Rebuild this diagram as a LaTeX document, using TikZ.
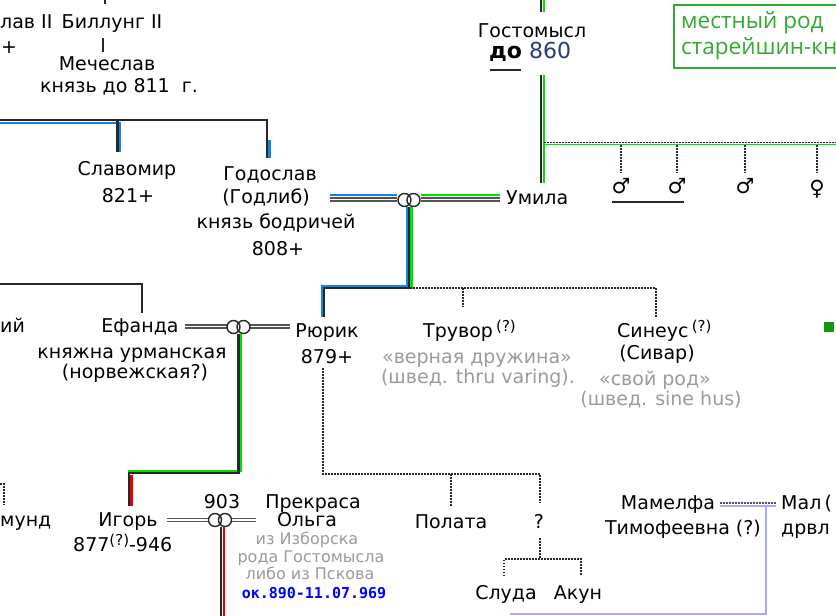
\documentclass[tikz,border=0pt]{standalone}
\usepackage{fontspec}
\setmainfont{DejaVu Sans}
\newfontfamily\boxfont{Open Sans}
\newfontfamily\monofont{DejaVu Sans Mono}
\definecolor{lgreen}{RGB}{0,225,0}
\definecolor{lblue}{RGB}{20,130,230}
\definecolor{lred}{RGB}{235,0,0}
\definecolor{gtxt}{RGB}{155,155,155}
\definecolor{pale}{RGB}{170,170,255}
\definecolor{dark}{RGB}{40,40,40}
\definecolor{bgreen}{RGB}{50,170,50}
\definecolor{sqgreen}{RGB}{20,150,20}
\definecolor{dblue}{RGB}{40,60,120}
\newcommand{\mainsz}{\fontsize{19}{24}\selectfont}
\newcommand{\qsup}{\raisebox{6pt}{\fontsize{15}{15}\selectfont(?)}}
\tikzset{
  txt/.style={inner sep=0pt, anchor=base, font=\mainsz, text=black},
  graytxt/.style={txt, text=gtxt},
  smallgray/.style={txt, text=gtxt, font=\fontsize{16}{18}\selectfont},
  monotxt/.style={txt, text=blue, font=\monofont\bfseries\fontsize{15}{18}\selectfont},
  symtxt/.style={inner sep=0pt, anchor=center, font=\fontsize{21}{21}\selectfont},
  boxtxt/.style={inner sep=0pt, anchor=base west, text=bgreen, font=\boxfont\fontsize{22.5}{24}\selectfont},
  bline/.style={draw=dark, line width=2.4pt},
  cline/.style={line width=2.2pt},
  thin/.style={draw=dark, line width=1.6pt},
  dotline/.style={draw=dark, line width=1.6pt, dash pattern=on 1.5pt off 1.5pt},
  marr/.style={draw=dark!80, line width=1.5pt, double=white, double distance=1.5pt},
  ring/.style={draw=dark, line width=1.4pt}
}
\begin{document}
\begin{tikzpicture}[x=1pt,y=-1pt]
\useasboundingbox (0,0) rectangle (836,616);
\clip (0,0) rectangle (836,616);
\fill[white] (0,0) rectangle (836,616);

% ---------- top-left ----------
\node[txt, anchor=base west] (lav) at (0,28) {лав II};
\node[txt, anchor=base west] (lavd) at (1,53) {+};
\node[txt] (bil) at (112,28) {Биллунг II};
\node[txt] (mech) at (107,70) {Мечеслав};
\node[txt] (mech2) at (119,92) {князь до 811~ г.};
\coordinate (biltop) at (105,0);
\draw[thin] (biltop) -- ++(0,4);
\draw[thin] (103,38) -- (103,52);

\node[txt] (slav) at (127,175) {Славомир};
\node[txt] (slav2) at (128,202) {821+};
\node[txt] (god) at (270,180) {Годослав};
\node[txt] (god2) at (266,203) {(Годлиб)};
\node[txt] (god3) at (276,228) {князь бодричей};
\node[txt] (god4) at (278,255) {808+};

\draw[cline, lblue] (0,122.6) -- (120.1,122.6) -- (120.1,152);
\draw[bline] (0,120) -- (267,120) -- (267,158);
\draw[bline] (117.5,120) -- (117.5,152);
\draw[cline, lblue] (269.5,140) -- (269.5,158);

% ---------- marriage Годослав - Умила ----------
\node[txt, anchor=base west] (umila) at (506,204) {Умила};
\coordinate (m1) at (409,200);
\draw[marr] (330,199.5) -- (397,199.5);
\draw[marr] (421,199.5) -- (500,199.5);
\draw[cline, lblue, line width=1.7pt] (330,195.3) -- (397,195.3);
\draw[cline, lgreen, line width=1.7pt] (421,195.3) -- (500,195.3);
\draw[ring] ([xshift=-4.5pt]m1) circle (6.5pt);
\draw[ring] ([xshift=4.5pt]m1) circle (6.5pt);

% descent to Рюрик
\draw[cline, lblue] (406.6,207) -- (406.6,285.6) -- (321.6,285.6) -- (321.6,317);
\draw[cline, lgreen] (411.4,207) -- (411.4,289);
\draw[bline] (409,207) -- (409,288) -- (324,288) -- (324,317);
\draw[dotline] (410,288) -- (656,288) -- (656,317);
\draw[dotline] (463,288) -- (463,307);

% ---------- Гостомысл ----------
\node[txt] (gost) at (532,37) {Гостомысл};
\node[txt, anchor=base west, font=\fontsize{22}{24}\selectfont] (gostd) at (489,58) {\textbf{до} \textcolor{dblue}{860}};
\draw[line width=2pt, dark] (490,69.5) -- (521,69.5);
\draw[cline, lgreen] (543.6,0) -- (543.6,12);
\draw[bline] (541,0) -- (541,12);
\draw[cline, lgreen] (543.6,75) -- (543.6,183);
\draw[bline] (541,75) -- (541,183);
\draw[lgreen, line width=1.4pt] (544,144.3) -- (836,144.3);
\draw[dotline, line width=1.3pt] (544,142.5) -- (836,142.5);
\foreach \sx in {621,677,745,817} {\draw[dotline] (\sx,145) -- (\sx,173);}
\node[symtxt] (s1) at (621,186) {♂};
\node[symtxt] (s2) at (677,186) {♂};
\node[symtxt] (s3) at (745,186) {♂};
\node[symtxt] (s4) at (817,189) {♀};
\draw[thin] (612,202) -- (684,202);

% green box
\draw[bgreen, line width=1.8pt] (674,5) rectangle (850,68);
\node[boxtxt] (box1) at (681,28) {местный род};
\node[boxtxt] (box2) at (681,54) {старейшин-кн};

% ---------- Рюрик row ----------
\node[txt] (rur) at (327,337) {Рюрик};
\node[txt] (rur2) at (327,363) {879+};
\node[txt, anchor=base west] (tru) at (423,337) {Трувор\,\qsup};
\node[graytxt] (tru2) at (477,363) {«верная дружина»};
\node[graytxt] (tru3) at (478,383) {(швед. thru varing).};
\node[txt, anchor=base west] (sin) at (617,337) {Синеус\,\qsup};
\node[txt] (sin2) at (657,359) {(Сивар)};
\node[graytxt] (sin3) at (655,385) {«свой род»};
\node[graytxt] (sin4) at (661,405) {(швед. sine hus)};
\fill[sqgreen] (824,322) rectangle (834,332);

% ---------- Ефанда ----------
\node[txt, anchor=base west] (ij) at (0,332) {ий};
\node[txt] (ef) at (140,332) {Ефанда};
\node[txt] (ef2) at (132,358) {княжна урманская};
\node[txt] (ef3) at (135,378) {(норвежская?)};
\draw[bline] (0,284) -- (142,284) -- (142,313);

\coordinate (m2) at (238.5,327);
\draw[marr] (185,326.5) -- (227,326.5);
\draw[marr] (250,326.5) -- (290,326.5);
\draw[ring] ([xshift=-5pt]m2) circle (6.5pt);
\draw[ring] ([xshift=5pt]m2) circle (6.5pt);

\draw[cline, lgreen] (240.7,334) -- (240.7,470.6) -- (128,470.6);
\draw[cline, lred] (131.5,475) -- (131.5,506);
\draw[bline] (238.3,334) -- (238.3,473) -- (129,473) -- (129,506);

% ---------- Игорь ----------
\node[txt, anchor=base west] (mund) at (0,526) {мунд};
\draw[dotline, line width=1.3pt] (0,484) -- (4,484) -- (4,505);
\node[txt] (igor) at (128,526) {Игорь};
\node[txt, anchor=base west] (igor2) at (73,551) {877\qsup-946};
\node[txt] (y903) at (222,508) {903};
\coordinate (m3) at (220,520);
\draw[marr] (167,520) -- (208,520);
\draw[marr] (232,520) -- (256,520);
\draw[ring] ([xshift=-5pt]m3) circle (6.5pt);
\draw[ring] ([xshift=5pt]m3) circle (6.5pt);
\draw[cline, lred] (223.6,527) -- (223.6,616);
\draw[bline] (221,527) -- (221,616);

\node[txt] (prek) at (313,508) {Прекраса};
\node[txt] (olga) at (307,526) {Ольга};
\node[smallgray] (olga2) at (307,544) {из Изборска};
\node[smallgray] (olga3) at (311,562) {рода Гостомысла};
\node[smallgray] (olga4) at (310,579) {либо из Пскова};
\node[monotxt] (olga5) at (314,598) {ок.890-11.07.969};

% ---------- children of Рюрик ----------
\draw[dotline] (323,368) -- (323,474) -- (540,474) -- (540,503);
\draw[dotline] (451,474) -- (451,506);
\node[txt] (pol) at (451,528) {Полата};
\node[txt] (q) at (539,528) {?};
\draw[dotline] (540,538) -- (540,559);
\draw[dotline] (504,576) -- (504,559) -- (581,559) -- (581,576);
\node[txt] (sluda) at (506,599) {Слуда};
\node[txt] (akun) at (578,599) {Акун};

% ---------- Мамелфа ----------
\node[txt] (mam) at (668,509) {Мамелфа};
\node[txt] (mam2) at (683,534) {Тимофеевна (?)};
\node[txt, anchor=base west] (mal) at (781,509) {Мал\,(};
\node[txt, anchor=base west] (mal2) at (781,534) {дрвл};
\draw[dotline, draw=dark!80, line width=1.2pt] (720,503) -- (776,503);
\draw[pale, line width=1.6pt] (720,506) -- (776,506);
\draw[pale, line width=1.6pt] (766,506) -- (766,614) -- (510,614);
\end{tikzpicture}
\end{document}
